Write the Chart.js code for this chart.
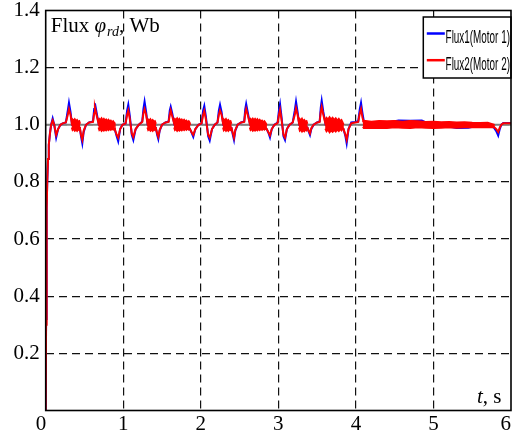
<!DOCTYPE html>
<html>
<head>
<meta charset="utf-8">
<script src="https://cdn.jsdelivr.net/npm/chart.js@4.4.1/dist/chart.umd.min.js"></script>
<style>
  html, body { margin: 0; padding: 0; background: #fff; }
  #wrap { width: 516px; height: 435px; }
</style>
</head>
<body>
<div id="wrap"><canvas id="flux" width="516" height="435"></canvas></div>
<script>
// axis ticks
const xTicks = [0, 1, 2, 3, 4, 5, 6];
const yTicks = [0.2, 0.4, 0.6, 0.8, 1.0, 1.2, 1.4];

// time samples (s) shared by both motors
const timeS = [
  0, 0.005, 0.01, 0.015, 0.02, 0.03, 0.04, 0.055, 0.07, 0.09,
  0.11, 0.135, 0.16, 0.19, 0.22, 0.26, 0.285, 0.30, 0.32, 0.34,
  0.44, 0.455, 0.472, 0.49, 0.52, 0.56, 0.61, 0.625, 0.635, 0.655,
  0.685, 0.89, 0.915, 0.935, 0.96, 0.99, 1.03, 1.05, 1.065, 1.085,
  1.11, 1.13, 1.16, 1.20,
  1.245, 1.26, 1.275, 1.295, 1.315, 1.42, 1.437, 1.452, 1.47, 1.50,
  1.545, 1.585, 1.60, 1.612, 1.632, 1.66, 1.86, 1.885, 1.903, 1.93,
  1.97, 2.01, 2.03, 2.045, 2.065, 2.095, 2.115, 2.145, 2.18, 2.215,
  2.233, 2.248, 2.268, 2.29, 2.395, 2.413, 2.428, 2.445, 2.475, 2.52,
  2.56, 2.573, 2.585, 2.605, 2.635, 2.85, 2.875, 2.892, 2.915, 2.95,
  2.99, 3.008, 3.022, 3.04, 3.066, 3.086, 3.11, 3.145, 3.185,
  3.212, 3.228, 3.248, 3.27, 3.375, 3.393, 3.408, 3.425, 3.455, 3.50,
  3.533, 3.547, 3.559, 3.58, 3.61, 3.84, 3.865, 3.881, 3.905, 3.94,
  3.99, 4.03, 4.05, 4.066, 4.085, 4.11,
  4.2, 4.3, 4.45, 4.55, 4.7, 4.85, 4.95, 5.1, 5.3, 5.45,
  5.6, 5.72, 5.78, 5.81, 5.835, 5.855, 5.875, 5.9, 6.0
];

// rotor flux, motor 1 (Wb)
const flux1 = [
  0, 0.32, 0.56, 0.71, 0.80, 0.88, 0.93, 0.97, 1.0, 1.022,
  1.0, 0.955, 0.985, 1.0, 1.005, 1.008, 1.05, 1.077, 1.045, 1.0,
  0.99, 0.96, 0.935, 0.975, 1.0, 1.008, 1.012, 1.055, 1.075, 1.045,
  1.0, 0.985, 0.96, 0.942, 0.985, 1.0, 1.005, 1.05, 1.07, 1.03,
  0.965, 0.947, 0.985, 1.0,
  1.012, 1.055, 1.081, 1.045, 1.0, 0.99, 0.965, 0.95, 0.98, 1.0,
  1.008, 1.012, 1.05, 1.063, 1.04, 1.0, 0.985, 0.97, 0.958, 0.985,
  1.0, 1.005, 1.05, 1.066, 1.03, 0.96, 0.945, 0.985, 1.0, 1.008,
  1.05, 1.07, 1.045, 1.0, 0.99, 0.965, 0.947, 0.98, 1.0, 1.008,
  1.012, 1.055, 1.073, 1.045, 1.0, 0.985, 0.97, 0.956, 0.985, 1.0,
  1.008, 1.05, 1.072, 1.03, 0.96, 0.947, 0.985, 1.0, 1.008,
  1.05, 1.081, 1.045, 1.0, 0.99, 0.975, 0.964, 0.985, 1.0, 1.008,
  1.012, 1.06, 1.084, 1.045, 1.0, 0.985, 0.96, 0.935, 0.985, 1.008,
  1.01, 1.012, 1.055, 1.077, 1.04, 1.0,
  1.003, 1.004, 1.01, 1.015, 1.014, 1.015, 1.002, 0.998, 0.989, 0.99,
  0.998, 0.996, 0.99, 0.978, 0.962, 0.985, 1.0, 1.006, 1.006
];

// rotor flux, motor 2 (Wb)
const flux2 = [
  0, 0.30, 0.55, 0.70, 0.80, 0.88, 0.93, 0.97, 1.0, 1.015,
  1.0, 0.965, 0.985, 1.0, 1.005, 1.008, 1.035, 1.055, 1.035, 1.0,
  0.99, 0.965, 0.948, 0.98, 1.0, 1.008, 1.01, 1.04, 1.06, 1.035,
  1.0, 0.985, 0.965, 0.955, 0.985, 1.0, 1.005, 1.035, 1.05, 1.02,
  0.97, 0.958, 0.985, 1.0,
  1.01, 1.04, 1.055, 1.035, 1.0, 0.99, 0.97, 0.958, 0.982, 1.0,
  1.008, 1.01, 1.035, 1.05, 1.03, 1.0, 0.985, 0.972, 0.965, 0.985,
  1.0, 1.005, 1.035, 1.048, 1.02, 0.965, 0.955, 0.985, 1.0, 1.008,
  1.035, 1.05, 1.035, 1.0, 0.99, 0.97, 0.955, 0.982, 1.0, 1.008,
  1.01, 1.04, 1.055, 1.035, 1.0, 0.985, 0.972, 0.963, 0.985, 1.0,
  1.006, 1.035, 1.052, 1.02, 0.965, 0.955, 0.985, 1.0, 1.008,
  1.035, 1.058, 1.035, 1.0, 0.99, 0.978, 0.97, 0.988, 1.0, 1.008,
  1.01, 1.045, 1.062, 1.035, 1.0, 0.985, 0.965, 0.948, 0.985, 1.005,
  1.008, 1.01, 1.04, 1.055, 1.025, 1.0,
  1.0, 1.002, 1.003, 1.004, 1.003, 1.003, 1.0, 0.999, 0.998, 0.999,
  0.998, 0.997, 0.993, 0.985, 0.975, 0.99, 1.0, 1.005, 1.005
];

// ripple envelope of motor 2 (null = no ripple)
const bandT = [
  0.333, 0.345, 0.36, 0.375, 0.39, 0.405, 0.42, 0.435, 0.447, 0.55,
  0.678, 0.69, 0.705, 0.72, 0.735, 0.75, 0.765, 0.78, 0.795, 0.81, 0.825, 0.84, 0.855, 0.87, 0.885, 0.893, 1.2,
  1.308, 1.32, 1.335, 1.35, 1.365, 1.38, 1.395, 1.41, 1.425, 1.5,
  1.653, 1.665, 1.68, 1.695, 1.71, 1.725, 1.74, 1.755, 1.77, 1.785, 1.80, 1.815, 1.83, 1.845, 1.86, 1.866, 2.1,
  2.283, 2.295, 2.31, 2.325, 2.34, 2.355, 2.37, 2.385, 2.398, 2.5,
  2.628, 2.64, 2.655, 2.67, 2.685, 2.70, 2.715, 2.73, 2.745, 2.76, 2.775, 2.79, 2.805, 2.82, 2.835, 2.853, 3.1,
  3.263, 3.275, 3.29, 3.305, 3.32, 3.335, 3.35, 3.365, 3.378, 3.45,
  3.603, 3.62, 3.64, 3.66, 3.68, 3.70, 3.72, 3.74, 3.76, 3.78, 3.80, 3.815, 3.83, 3.845, 4.0,
  4.088, 4.1, 4.2, 4.3, 4.4, 4.5, 4.6, 4.7, 4.8, 4.9, 5.0, 5.1, 5.2, 5.3, 5.4, 5.5, 5.6, 5.7, 5.79
];
const bandHi = [
  1.012, 1.02, 1.016, 1.021, 1.014, 1.018, 1.012, 1.014, 1.004, null,
  1.015, 1.022, 1.018, 1.024, 1.017, 1.022, 1.016, 1.02, 1.014, 1.019, 1.013, 1.016, 1.01, 1.014, 1.008, 1.0, null,
  1.012, 1.02, 1.016, 1.021, 1.014, 1.018, 1.012, 1.014, 1.004, null,
  1.015, 1.022, 1.018, 1.024, 1.017, 1.022, 1.016, 1.02, 1.014, 1.019, 1.013, 1.016, 1.01, 1.014, 1.008, 1.0, null,
  1.012, 1.021, 1.016, 1.022, 1.014, 1.018, 1.012, 1.014, 1.004, null,
  1.015, 1.022, 1.018, 1.023, 1.017, 1.022, 1.016, 1.021, 1.014, 1.019, 1.013, 1.016, 1.01, 1.014, 1.008, 1.0, null,
  1.012, 1.022, 1.016, 1.023, 1.014, 1.018, 1.012, 1.014, 1.004, null,
  1.018, 1.026, 1.02, 1.028, 1.02, 1.026, 1.018, 1.024, 1.016, 1.022, 1.014, 1.018, 1.01, 1.0, null,
  1.01, 1.015, 1.012, 1.014, 1.013, 1.014, 1.012, 1.014, 1.013, 1.011, 1.012, 1.01, 1.011, 1.009, 1.01, 1.008, 1.007, 1.008, 1.0
];
const bandLo = [
  0.99, 0.98, 0.984, 0.978, 0.982, 0.977, 0.983, 0.98, 0.99, null,
  0.99, 0.98, 0.984, 0.977, 0.982, 0.978, 0.983, 0.979, 0.984, 0.98, 0.985, 0.981, 0.986, 0.982, 0.986, 0.99, null,
  0.99, 0.98, 0.984, 0.978, 0.982, 0.977, 0.983, 0.98, 0.99, null,
  0.99, 0.98, 0.984, 0.977, 0.982, 0.978, 0.983, 0.979, 0.984, 0.98, 0.985, 0.981, 0.986, 0.982, 0.986, 0.99, null,
  0.99, 0.979, 0.984, 0.977, 0.982, 0.977, 0.983, 0.98, 0.99, null,
  0.99, 0.98, 0.984, 0.978, 0.982, 0.978, 0.983, 0.979, 0.984, 0.98, 0.985, 0.981, 0.986, 0.982, 0.986, 0.99, null,
  0.99, 0.978, 0.982, 0.975, 0.98, 0.976, 0.982, 0.979, 0.99, null,
  0.986, 0.976, 0.982, 0.972, 0.979, 0.974, 0.981, 0.975, 0.982, 0.977, 0.984, 0.979, 0.986, 0.99, null,
  0.993, 0.988, 0.988, 0.989, 0.988, 0.99, 0.989, 0.988, 0.99, 0.989, 0.988, 0.989, 0.99, 0.989, 0.99, 0.991, 0.99, 0.991, 0.99
];

// flux reference
const refT = [0, 6];
const refV = [1.0, 1.0];

const RED = '#ff0000', BLUE = '#0000ff';
const SERIF = '"Liberation Serif", "Times New Roman", serif';

const pts = (xs, ys) => xs.map((x, i) => ({x: x, y: ys[i]}));

const lineDefaults = {
    pointRadius: 0,
    tension: 0,
    fill: false
};

// legend entries in drawing order (dataset indices)
const legendOrder = [3, 0];

const framePlugin = {
    id: 'frame',
    afterDraw(chart) {
        const {ctx, chartArea: a, scales: {x}} = chart;
        ctx.save();

        // x tick labels, end labels kept inside the frame corners
        ctx.fillStyle = '#000';
        ctx.font = '21px ' + SERIF;
        ctx.textBaseline = 'alphabetic';
        xTicks.forEach((v, i) => {
            const px = x.getPixelForValue(v);
            ctx.textAlign = (i === 0 || i === xTicks.length - 1) ? 'right' : 'center';
            ctx.fillText(String(v), px + (i === 0 ? 0.5 : 0), a.bottom + 19);
        });

        // axis title inside the plot, top left
        ctx.textAlign = 'left';
        let cx = a.left + 5;
        const by = a.top + 21;
        ctx.font = '21px ' + SERIF;
        ctx.fillText('Flux ', cx, by);
        cx += ctx.measureText('Flux ').width;
        ctx.font = 'italic 21px ' + SERIF;
        ctx.fillText('φ', cx, by);
        cx += ctx.measureText('φ').width + 1;
        ctx.font = 'italic 14px ' + SERIF;
        ctx.fillText('rd', cx, by + 4);
        cx += ctx.measureText('rd').width;
        ctx.font = '21px ' + SERIF;
        ctx.fillText(', Wb', cx, by);

        // time axis title, bottom right
        cx = a.right - 34;
        ctx.font = 'italic 21px ' + SERIF;
        ctx.fillText('t', cx, a.bottom - 7.5);
        cx += ctx.measureText('t').width;
        ctx.font = '21px ' + SERIF;
        ctx.fillText(', s', cx, a.bottom - 7.5);

        // legend box
        const lx = a.right - 87.7, ly = a.top + 6.5, lw = 87.7, lh = 61;
        ctx.fillStyle = '#fff';
        ctx.fillRect(lx, ly, lw, lh);
        ctx.strokeStyle = '#000';
        ctx.lineWidth = 1.5;
        ctx.strokeRect(lx, ly, lw, lh);
        legendOrder.forEach((idx, row) => {
            const ds = chart.data.datasets[idx];
            const yLine = ly + 16.5 + row * 26.7;
            ctx.strokeStyle = ds.borderColor;
            ctx.lineWidth = 2.5;
            ctx.beginPath();
            ctx.moveTo(lx + 3.5, yLine);
            ctx.lineTo(lx + 21.5, yLine);
            ctx.stroke();
            ctx.save();
            ctx.translate(lx + 22.3, yLine + 9.6);
            ctx.scale(0.55, 1);
            ctx.fillStyle = '#000';
            ctx.font = '18px "Liberation Sans", Arial, sans-serif';
            ctx.textAlign = 'left';
            ctx.fillText(ds.label, 0, 0);
            ctx.restore();
        });

        // plot frame
        ctx.strokeStyle = '#000';
        ctx.lineWidth = 1.6;
        ctx.strokeRect(a.left, a.top, a.right - a.left, a.bottom - a.top);
        ctx.restore();
    }
};

const hideEdge = (lo, hi) => (c) => {
    const v = c.tick ? c.tick.value : null;
    return (Math.abs(v - lo) < 1e-9 || Math.abs(v - hi) < 1e-9) ? 'rgba(0,0,0,0)' : '#111';
};

new Chart(document.getElementById('flux'), {
    type: 'line',
    data: {
        datasets: [
            Object.assign({
                label: 'Flux2(Motor 2)',
                data: pts(timeS, flux2),
                borderColor: RED,
                borderWidth: 2,
                order: 0
            }, lineDefaults),
            Object.assign({}, lineDefaults, {
                label: '',
                data: pts(bandT, bandHi),
                borderColor: RED,
                borderWidth: 1.4,
                backgroundColor: RED,
                fill: '+1',
                order: 1
            }),
            Object.assign({
                label: '',
                data: pts(bandT, bandLo),
                borderColor: RED,
                borderWidth: 1.4,
                order: 1
            }, lineDefaults),
            Object.assign({
                label: 'Flux1(Motor 1)',
                data: pts(timeS, flux1),
                borderColor: BLUE,
                borderWidth: 2,
                order: 2
            }, lineDefaults),
            Object.assign({
                label: '',
                data: pts(refT, refV),
                borderColor: '#808080',
                borderWidth: 2,
                order: 3
            }, lineDefaults)
        ]
    },
    options: {
        responsive: false,
        animation: false,
        devicePixelRatio: 1,
        layout: {padding: {left: 0, right: 5, top: 10.5, bottom: 0}},
        plugins: {
            legend: {display: false},
            tooltip: {enabled: false}
        },
        scales: {
            x: {
                type: 'linear',
                min: 0,
                max: 6,
                ticks: {stepSize: 1, display: false},
                grid: {color: hideEdge(0, 6), lineWidth: 1.2, drawTicks: false},
                border: {display: false, dash: [8, 5]},
                afterFit: (s) => {
                    s.height = 24.5;
                    s.paddingLeft = 0;
                    s.paddingRight = 0;
                }
            },
            y: {
                min: 0,
                max: 1.4,
                afterBuildTicks: (s) => { s.ticks = yTicks.map(v => ({value: v})); },
                ticks: {
                    color: '#000',
                    padding: 6,
                    font: {family: SERIF, size: 21},
                    callback: (v) => Number(v).toFixed(1)
                },
                grid: {color: hideEdge(0, 1.4), lineWidth: 1.2, drawTicks: false},
                border: {display: false, dash: [8, 5]},
                afterFit: (s) => {
                    s.width = 45.7;
                    s.paddingTop = 0;
                    s.paddingBottom = 0;
                }
            }
        }
    },
    plugins: [framePlugin]
});
</script>
</body>
</html>
